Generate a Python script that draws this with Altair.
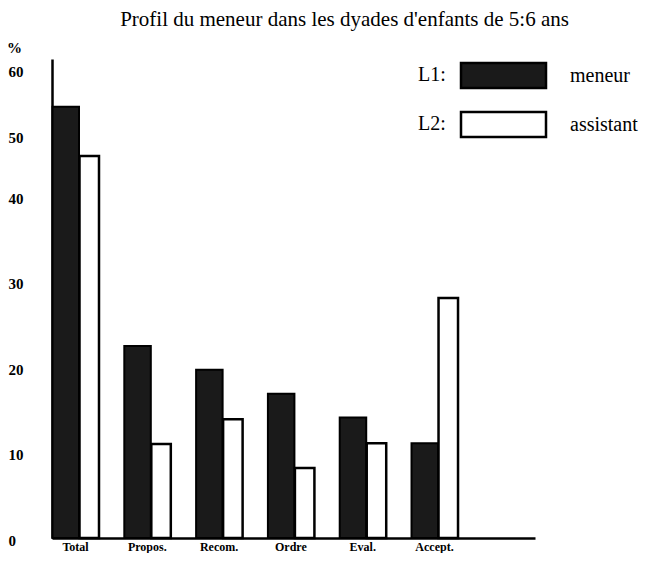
import altair as alt
import pandas as pd

title_text = "Profil du meneur dans les dyades d'enfants de 5:6 ans"
categories = ["Total", "Propos.", "Recom.", "Ordre", "Eval.", "Accept."]
series = ["meneur", "assistant"]
prefixes = ["L1:", "L2:"]
meneur = [54.3, 22.5, 19.7, 16.9, 14.1, 11.1]
assistant = [46.6, 11.0, 13.9, 8.2, 11.1, 28.1]
y_ticks = [0, 10, 20, 30, 40, 50, 60]

rows = []
for c, m, a in zip(categories, meneur, assistant):
    rows.append({"cat": c, "serie": series[0], "val": m})
    rows.append({"cat": c, "serie": series[1], "val": a})
df = pd.DataFrame(rows)

W, H = 483, 479
FONT = "Liberation Serif"

x_scale = alt.Scale(domain=categories, paddingInner=0.3454, paddingOuter=0.536, align=0)
y_scale = alt.Scale(domain=[0, 40, 50, 60, 61.6], range=[479, 137.5, 76, 10.5, 0],
                    nice=False, zero=False)

x_enc = alt.X("cat:N", scale=x_scale, sort=categories,
              axis=alt.Axis(title=None, labelAngle=0, ticks=False, domainColor="black",
                            domainWidth=2.5, labelFont=FONT, labelFontSize=12,
                            labelFontWeight="bold", labelColor="black", labelPadding=3))
y_enc = alt.Y("val:Q", scale=y_scale,
              axis=alt.Axis(values=y_ticks, format="d", title="%", titleAngle=0,
                            titleX=-38, titleY=-12, titleFont=FONT, titleFontSize=15,
                            titleFontWeight="bold", titleAlign="center",
                            titleBaseline="middle", titleColor="black",
                            ticks=False, grid=False, domainColor="black", domainWidth=2.5,
                            labelFont=FONT, labelFontSize=15, labelFontWeight="bold",
                            labelColor="black", labelAlign="left", labelPadding=44,
                            labelOffset=2, labelBaseline="middle", labelFlush=False,
                            labelOverlap=False))
fill_enc = alt.Fill("serie:N",
                    scale=alt.Scale(domain=series, range=["#1a1a1a", "#ffffff"]),
                    legend=alt.Legend(orient="none", legendX=425, legendY=-10, title=None,
                                      symbolType="M-1.7,-0.5H1.7V0.5H-1.7Z",
                                      symbolSize=2500, symbolStrokeColor="black",
                                      symbolStrokeWidth=2.5, labelFont=FONT,
                                      labelFontSize=20, labelColor="black",
                                      labelOffset=40, rowPadding=5, padding=0))

base = alt.Chart(df)
men = base.transform_filter(alt.datum.serie == series[0]).mark_bar(
    width=26.5, xOffset=-9.75, stroke="black", strokeWidth=2
).encode(x=x_enc, y=y_enc, fill=fill_enc)
ass = base.transform_filter(alt.datum.serie == series[1]).mark_bar(
    width=19.5, xOffset=13.75, stroke="black", strokeWidth=2.5
).encode(x=x_enc, y=y_enc, fill=fill_enc)

l1 = alt.Chart(pd.DataFrame({"t": [prefixes[0]]})).mark_text(
    font=FONT, fontSize=20, align="left", baseline="middle", color="black"
).encode(x=alt.value(366), y=alt.value(16), text="t:N")
l2 = alt.Chart(pd.DataFrame({"t": [prefixes[1]]})).mark_text(
    font=FONT, fontSize=20, align="left", baseline="middle", color="black"
).encode(x=alt.value(366), y=alt.value(65), text="t:N")

chart = alt.layer(men, ass, l1, l2).properties(
    width=W, height=H,
    title=alt.TitleParams(title_text, font=FONT, fontSize=21, fontWeight="normal",
                          anchor="middle", dx=51, offset=10, color="black", frame="group"),
    padding={"left": 44, "top": 51, "right": 110, "bottom": 15},
    autosize=alt.AutoSizeParams(type="none"),
    background="white",
).configure_view(stroke=None)

chart.save("out.html", embed_options={"renderer": "svg", "actions": False})
